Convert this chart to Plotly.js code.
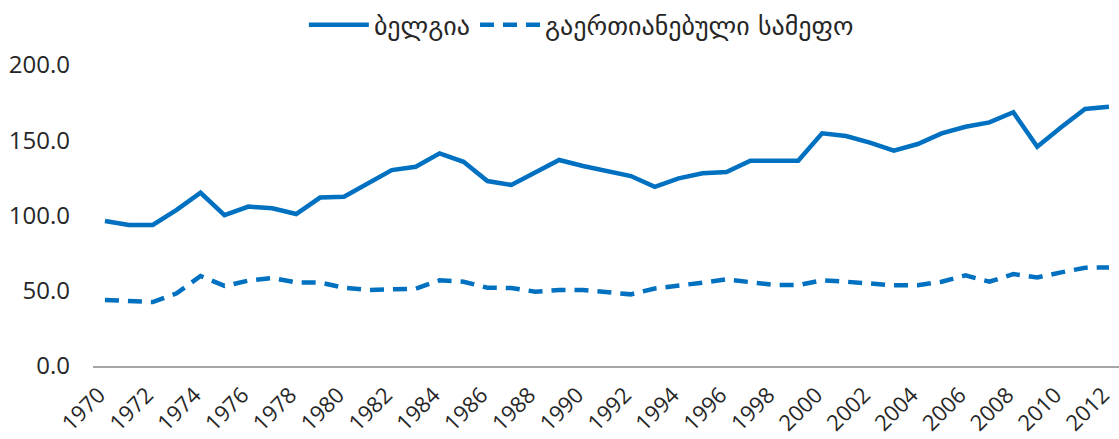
<!DOCTYPE html>
<html>
<head>
<meta charset="utf-8">
<script src="https://cdn.plot.ly/plotly-3.0.1.min.js"></script>
<style>html,body{margin:0;padding:0;background:#fff;}#chart{width:1119px;height:439px;}</style>
</head>
<body>
<div id="chart"></div>
<script>
var years = [1970,1971,1972,1973,1974,1975,1976,1977,1978,1979,1980,1981,1982,1983,1984,1985,1986,1987,1988,1989,1990,1991,1992,1993,1994,1995,1996,1997,1998,1999,2000,2001,2002,2003,2004,2005,2006,2007,2008,2009,2010,2011,2012];
var belgium = [96.3,93.7,93.7,103.7,115.1,100.3,105.9,104.8,101.0,111.9,112.5,121.0,130.2,132.4,141.3,135.7,122.9,120.3,128.5,136.9,132.9,129.8,126.2,119.1,124.7,128.0,128.9,136.4,136.4,136.4,154.6,152.8,148.4,143.1,147.5,154.6,159.0,161.9,168.6,145.7,158.6,170.8,172.3];
var uk = [43.9,43.2,42.5,48.3,59.8,53.2,56.7,58.5,55.6,55.4,52.0,50.5,50.7,51.4,56.9,56.0,52.0,51.8,49.4,50.5,50.5,48.7,47.6,51.5,53.2,55.4,57.6,56.0,53.8,53.8,56.9,56.0,54.5,53.6,53.6,56.0,60.2,56.0,61.1,58.9,62.2,65.3,65.5];
var seriesNames = ['ბელგია', 'გაერთიანებული სამეფო'];
var yTicks = [0, 50, 100, 150, 200];
var xTickYears = years.filter(function(y){return y % 2 === 0;});

var blue = '#0070C0';
var fontFam = 'Open Sans, DejaVu Sans, sans-serif';

var traces = [
  {x: years, y: belgium, name: seriesNames[0], type: 'scatter', mode: 'lines',
   line: {color: blue, width: 4.5}},
  {x: years, y: uk, name: seriesNames[1], type: 'scatter', mode: 'lines',
   line: {color: blue, width: 4.5, dash: '14px,9px'}}
];

var layout = {
  width: 1119, height: 439,
  margin: {l: 93, r: 0, t: 65, b: 73},
  paper_bgcolor: '#fff', plot_bgcolor: '#fff',
  font: {family: fontFam, size: 24, color: '#262626'},
  showlegend: true,
  legend: {orientation: 'h', x: 0.476, xanchor: 'center', y: 1.133, yanchor: 'middle',
    font: {family: 'DejaVu Sans, sans-serif', size: 26, color: '#262626'}, itemwidth: 60},
  xaxis: {
    range: [1969.5, 2012.42], tickmode: 'array', tickvals: xTickYears,
    ticktext: xTickYears.map(String),
    tickangle: -45, showgrid: false, zeroline: false,
    showline: true, linecolor: '#a6a6a6', linewidth: 1.5, ticks: '',
    ticklabelstandoff: 6, ticklabelshift: -6, ticklabeloverflow: 'allow',
    tickfont: {family: fontFam, size: 22, color: '#262626'}, fixedrange: true
  },
  yaxis: {
    range: [0, 200], tickmode: 'array', tickvals: yTicks, tickformat: '.1f',
    showgrid: false, zeroline: false, showline: false, ticks: '',
    ticklabelstandoff: 22,
    tickfont: {family: fontFam, size: 24, color: '#262626'}, fixedrange: true
  }
};

Plotly.newPlot('chart', traces, layout, {displayModeBar: false, staticPlot: true});
</script>
</body>
</html>
